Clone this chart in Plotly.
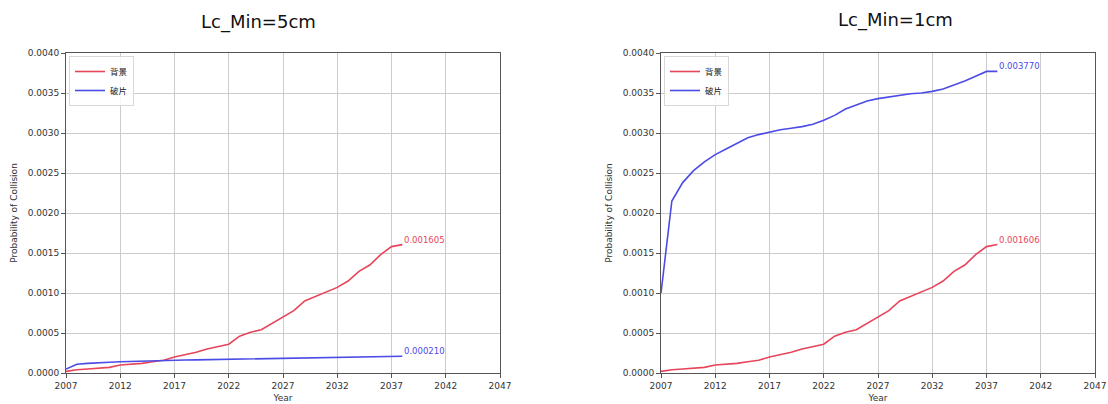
import plotly.graph_objects as go

# Annual collision probability, 2007-2038
years = list(range(2007, 2039))

# Lc_Min = 5cm
bg_5cm = [0.00002, 0.00004, 0.00005, 0.00006, 0.00007, 0.00010, 0.00011, 0.00012,
          0.00014, 0.00016, 0.00020, 0.00023, 0.00026, 0.00030, 0.00033, 0.00036,
          0.00046, 0.00051, 0.00054, 0.00062, 0.00070, 0.00078, 0.00090, 0.00096,
          0.00102, 0.00107, 0.00115, 0.00127, 0.00135, 0.00148, 0.00158, 0.001605]
frag_5cm = [0.00005, 0.00011, 0.00012, 0.00013, 0.000135, 0.00014, 0.000145, 0.00015,
            0.000155, 0.000158, 0.00016, 0.000162, 0.000164, 0.000166, 0.000168, 0.00017,
            0.000173, 0.000176, 0.000179, 0.000182, 0.000184, 0.000186, 0.000187, 0.000188,
            0.00019, 0.000192, 0.000195, 0.000198, 0.000201, 0.000205, 0.000208, 0.000210]

# Lc_Min = 1cm
bg_1cm = [0.00002, 0.00004, 0.00005, 0.00006, 0.00007, 0.00010, 0.00011, 0.00012,
          0.00014, 0.00016, 0.00020, 0.00023, 0.00026, 0.00030, 0.00033, 0.00036,
          0.00046, 0.00051, 0.00054, 0.00062, 0.00070, 0.00078, 0.00090, 0.00096,
          0.00102, 0.00107, 0.00115, 0.00127, 0.00135, 0.00148, 0.00158, 0.001606]
frag_1cm = [0.00100, 0.00215, 0.00238, 0.00253, 0.00264, 0.00273, 0.00280, 0.00287,
            0.00294, 0.00298, 0.00301, 0.00304, 0.00306, 0.00308, 0.00311, 0.00316,
            0.00322, 0.00330, 0.00335, 0.00340, 0.00343, 0.00345, 0.00347, 0.00349,
            0.00350, 0.00352, 0.00355, 0.00360, 0.00365, 0.00371, 0.00377, 0.003770]

panel_titles = ["Lc_Min=5cm", "Lc_Min=1cm"]
series_names = ["背景", "破片"]
x_ticks = list(range(2007, 2048, 5))

RED = "#e6455a"
BLUE = "#4b4be6"
FONT = "DejaVu Sans, Noto Sans CJK SC, sans-serif"

W, H = 1108, 404
def px_x(p):
    return p / W
def px_y(p):
    return 1 - p / H

dom_left = [px_x(66), px_x(500)]
dom_right = [px_x(661), px_x(1095)]
dom_y = [px_y(373), px_y(53)]

fig = go.Figure()

panels = [
    ("x", "y", "legend", bg_5cm, frag_5cm),
    ("x2", "y2", "legend2", bg_1cm, frag_1cm),
]
for xa, ya, leg, bg, frag in panels:
    for name, vals, col in [(series_names[0], bg, RED), (series_names[1], frag, BLUE)]:
        fig.add_trace(go.Scatter(
            x=years, y=vals, mode="lines", name=name,
            line=dict(color=col, width=1.6),
            xaxis=xa, yaxis=ya, legend=leg,
        ))
        fig.add_annotation(
            x=years[-1], y=vals[-1], xref=xa, yref=ya,
            text=f"{vals[-1]:.6f}", showarrow=False,
            xanchor="left", yanchor="bottom", xshift=0, yshift=-2,
            font=dict(family=FONT, size=8.5, color=col),
        )

axis_common = dict(
    showgrid=True, gridcolor="#cccccc", gridwidth=1,
    showline=True, linecolor="#555555", linewidth=1, mirror=True,
    ticks="outside", ticklen=4, tickcolor="#555555",
    tickfont=dict(family=FONT, size=9, color="#333333"),
    zeroline=False, automargin=False,
)
xcfg = dict(axis_common, range=[2007, 2047], tickvals=x_ticks,
            title=dict(text="Year", font=dict(family=FONT, size=9, color="#333333"), standoff=4))
ycfg = dict(axis_common, range=[0, 0.004], dtick=0.0005, tickformat=".4f",
            title=dict(text="Probability of Collision",
                       font=dict(family=FONT, size=9, color="#333333"), standoff=8))

legend_cfg = dict(
    xanchor="left", yanchor="top",
    bgcolor="rgba(255,255,255,0.85)", bordercolor="#d8d8d8", borderwidth=1,
    font=dict(family=FONT, size=8.5, color="#222222"),
    itemwidth=30, tracegroupgap=0,
)

fig.update_layout(
    width=W, height=H,
    margin=dict(l=0, r=0, t=0, b=0, autoexpand=False),
    paper_bgcolor="white", plot_bgcolor="white",
    xaxis=dict(xcfg, domain=dom_left, anchor="y"),
    yaxis=dict(ycfg, domain=dom_y, anchor="x"),
    xaxis2=dict(xcfg, domain=dom_right, anchor="y2"),
    yaxis2=dict(ycfg, domain=dom_y, anchor="x2"),
    legend=dict(legend_cfg, x=px_x(69), y=px_y(56)),
    legend2=dict(legend_cfg, x=px_x(664), y=px_y(56)),
    showlegend=True,
)

for title, cx, cy in [(panel_titles[0], 258, 22), (panel_titles[1], 895, 20)]:
    fig.add_annotation(
        x=px_x(cx), y=px_y(cy), xref="paper", yref="paper",
        text=title, showarrow=False, xanchor="center", yanchor="middle",
        font=dict(family="DejaVu Sans, sans-serif", size=18, color="#111111"),
    )

fig.write_html("out.html")
